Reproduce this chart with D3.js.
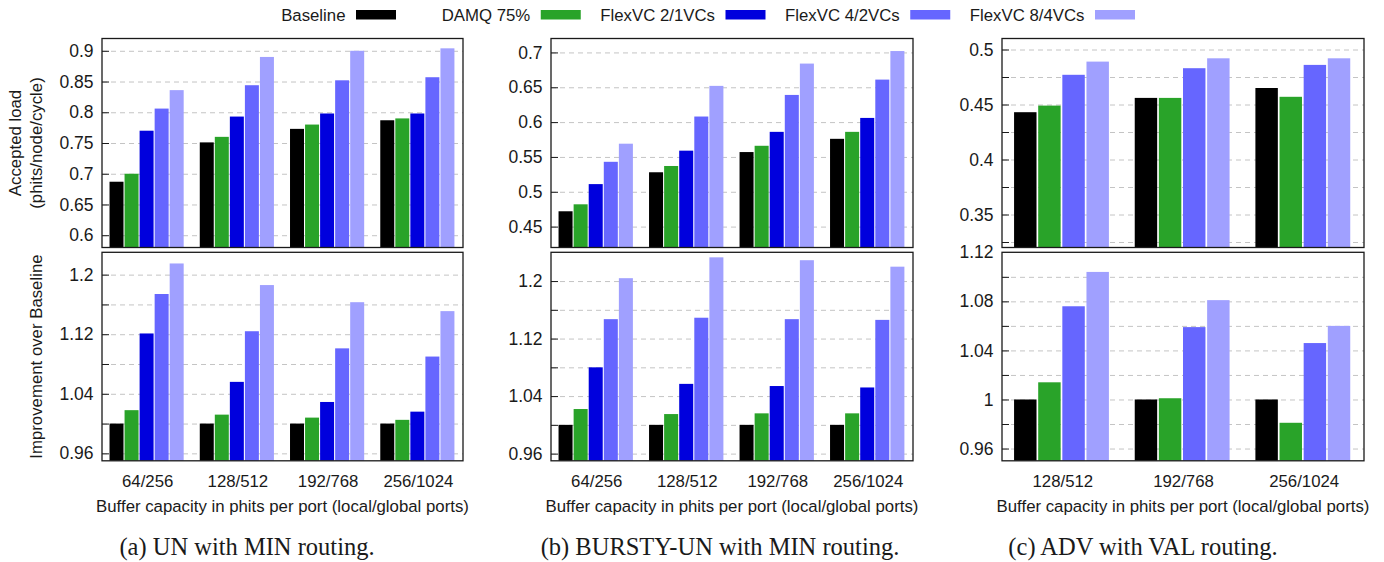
<!DOCTYPE html>
<html><head><meta charset="utf-8">
<script src="https://cdn.jsdelivr.net/npm/d3@7"></script>
<style>
body{margin:0;background:#fff}
text{font-family:"Liberation Sans",Arial,sans-serif;fill:#1a1a1a}
.cap{font-family:"Liberation Serif","Times New Roman",serif}
</style>
</head><body><svg id="chart" width="1384" height="562"></svg>
<script>
// ---------------- data ----------------
const seriesNames = ["Baseline","DAMQ 75%","FlexVC 2/1VCs","FlexVC 4/2VCs","FlexVC 8/4VCs"];
const seriesColors = ["#000000","#29a329","#0000dd","#6666ff","#a0a0ff"];
const categoriesMin = ["64/256","128/512","192/768","256/1024"];
const categoriesVal = ["128/512","192/768","256/1024"];

// rows = series (same order as seriesNames), columns = categories
const unLoad = [
  [0.687,0.751,0.773,0.787],
  [0.700,0.760,0.780,0.790],
  [0.770,0.793,0.798,0.798],
  [0.806,0.844,0.852,0.857],
  [0.836,0.890,0.900,0.904]];
const unImprovement = [
  [1.000,1.000,1.000,1.000],
  [1.018,1.012,1.008,1.005],
  [1.121,1.056,1.029,1.016],
  [1.174,1.124,1.101,1.090],
  [1.215,1.186,1.163,1.151]];
const burstyLoad = [
  [0.472,0.528,0.557,0.576],
  [0.482,0.537,0.566,0.586],
  [0.511,0.559,0.586,0.606],
  [0.543,0.608,0.639,0.661],
  [0.569,0.652,0.684,0.702]];
const burstyImprovement = [
  [1.000,1.000,1.000,1.000],
  [1.022,1.015,1.016,1.016],
  [1.080,1.057,1.054,1.052],
  [1.147,1.149,1.147,1.146],
  [1.204,1.233,1.229,1.220]];
const advLoad = [
  [0.443,0.456,0.465],
  [0.449,0.456,0.457],
  null,
  [0.477,0.483,0.486],
  [0.489,0.492,0.492]];
const advImprovement = [
  [1.000,1.000,1.000],
  [1.014,1.001,0.981],
  null,
  [1.076,1.059,1.046],
  [1.104,1.081,1.060]];

// tick values
const unLoadGrid = [0.6,0.65,0.7,0.75,0.8,0.85,0.9];
const unLoadLabels = [0.6,0.65,0.7,0.75,0.8,0.85,0.9];
const burstyLoadGrid = [0.45,0.5,0.55,0.6,0.65,0.7];
const burstyLoadLabels = [0.45,0.5,0.55,0.6,0.65,0.7];
const minImpGrid = [0.96,1.0,1.04,1.08,1.12,1.16,1.2];
const minImpLabels = [0.96,1.04,1.12,1.2];
const advLoadGrid = [0.325,0.35,0.375,0.4,0.425,0.45,0.475,0.5];
const advLoadLabels = [0.35,0.4,0.45,0.5];
const advImpGrid = [0.96,0.98,1.0,1.02,1.04,1.06,1.08,1.10];
const advImpLabels = [0.96,1,1.04,1.08,1.12];

const xTitle = "Buffer capacity in phits per port (local/global ports)";
const captions = ["(a) UN with MIN routing.","(b) BURSTY-UN with MIN routing.","(c) ADV with VAL routing."];

// ---------------- layout ----------------
const svg = d3.select("#chart");
const TOP = [38.5, 247.5], BOT = [252.3, 460.8];
const panels = [
  {x:[102,463], cats:categoriesMin, top:{data:unLoad, dom:[0.58,0.92], grid:unLoadGrid, labels:unLoadLabels},
   bot:{data:unImprovement, dom:[0.95,1.23], grid:minImpGrid, labels:minImpLabels}, cap:247},
  {x:[551,913], cats:categoriesMin, top:{data:burstyLoad, dom:[0.42,0.72], grid:burstyLoadGrid, labels:burstyLoadLabels},
   bot:{data:burstyImprovement, dom:[0.95,1.24], grid:minImpGrid, labels:minImpLabels}, cap:720},
  {x:[1002,1364], cats:categoriesVal, top:{data:advLoad, dom:[0.32,0.51], grid:advLoadGrid, labels:advLoadLabels},
   bot:{data:advImprovement, dom:[0.95,1.12], grid:advImpGrid, labels:advImpLabels}, cap:1143}
];
const fmt = v => String(+v.toFixed(3));
let clipId = 0;

function drawPlot(p, spec, yr){
  const x = d3.scaleLinear().domain([-0.5, p.cats.length-0.5]).range(p.x);
  const y = d3.scaleLinear().domain(spec.dom).range([yr[1], yr[0]]);
  const w = p.x[1]-p.x[0];
  const g = svg.append("g");
  // grid
  g.append("g").attr("transform",`translate(${p.x[0]},0)`)
    .call(d3.axisLeft(y).tickValues(spec.grid).tickSize(-w).tickFormat(""))
    .call(s=>{s.select(".domain").remove();
      s.selectAll("line").attr("stroke","#c4c4c4").attr("stroke-dasharray","5,4").attr("stroke-width",1);});
  // bars
  const id = "clip"+(clipId++);
  svg.append("clipPath").attr("id",id).append("rect")
    .attr("x",p.x[0]).attr("y",yr[0]).attr("width",w).attr("height",yr[1]-yr[0]);
  const present = spec.data.map((d,i)=>d?i:-1).filter(i=>i>=0);
  const m = present.length, slot = 1/(m+1);
  const bars = [];
  present.forEach((si,k)=>spec.data[si].forEach((v,ci)=>bars.push({si,k,ci,v})));
  g.append("g").attr("clip-path",`url(#${id})`).selectAll("rect").data(bars).join("rect")
    .attr("x",d=>x(d.ci - m*slot/2 + d.k*slot))
    .attr("width",d=>(x(slot)-x(0))*0.93)
    .attr("y",d=>y(d.v))
    .attr("height",d=>Math.max(0,yr[1]-y(d.v)))
    .attr("fill",d=>seriesColors[d.si]);
  // tick marks (inward) + labels
  g.append("g").attr("transform",`translate(${p.x[0]},0)`)
    .call(d3.axisLeft(y).tickValues(spec.grid).tickSize(-7).tickFormat(""))
    .call(s=>{s.select(".domain").remove(); s.selectAll("line").attr("stroke","#1a1a1a");});
  g.append("g").attr("transform",`translate(${p.x[0]},0)`)
    .call(d3.axisLeft(y).tickValues(spec.labels).tickSize(0).tickPadding(8.5).tickFormat(fmt))
    .call(s=>{s.select(".domain").remove();
      s.selectAll("text").style("font-size","17.5px").attr("fill","#1a1a1a")
        .style("font-family",'"Liberation Sans",Arial,sans-serif');});
  // frame
  g.append("rect").attr("x",p.x[0]).attr("y",yr[0]).attr("width",w).attr("height",yr[1]-yr[0])
    .attr("fill","none").attr("stroke","#1a1a1a").attr("stroke-width",1.3);
  return x;
}

panels.forEach(p=>{
  drawPlot(p, p.top, TOP);
  const x = drawPlot(p, p.bot, BOT);
  const xa = svg.append("g").attr("transform",`translate(0,${BOT[1]})`)
    .call(d3.axisBottom(x).tickValues(d3.range(p.cats.length)).tickSize(0).tickPadding(14)
      .tickFormat(i=>p.cats[i]));
  xa.select(".domain").remove();
  xa.selectAll("text").style("font-size","16.8px").attr("fill","#1a1a1a")
    .style("font-family",'"Liberation Sans",Arial,sans-serif');
  svg.append("text").attr("x",(p.x[0]+p.x[1])/2).attr("y",512).attr("text-anchor","middle")
    .style("font-size","16.8px").text(xTitle);
});
captions.forEach((c,i)=>svg.append("text").attr("class","cap").attr("x",panels[i].cap).attr("y",555)
  .attr("text-anchor","middle").style("font-size","24.5px").text(c));

// y axis titles
svg.append("text").attr("transform",`translate(21,${(TOP[0]+TOP[1])/2}) rotate(-90)`)
  .attr("text-anchor","middle").style("font-size","16.8px").text("Accepted load");
svg.append("text").attr("transform",`translate(42,${(TOP[0]+TOP[1])/2}) rotate(-90)`)
  .attr("text-anchor","middle").style("font-size","16.8px").text("(phits/node/cycle)");
svg.append("text").attr("transform",`translate(42,${(BOT[0]+BOT[1])/2}) rotate(-90)`)
  .attr("text-anchor","middle").style("font-size","16.8px").text("Improvement over Baseline");

// legend
const lg = svg.append("g").selectAll("g").data(seriesNames).join("g")
  .attr("transform",(d,i)=>`translate(${356+i*184.75},0)`);
lg.append("rect").attr("x",0).attr("y",10).attr("width",40).attr("height",9.5)
  .attr("fill",(d,i)=>seriesColors[i]);
lg.append("text").attr("x",-10.5).attr("y",21).attr("text-anchor","end")
  .style("font-size","16.8px").text(d=>d);
</script></body></html>
